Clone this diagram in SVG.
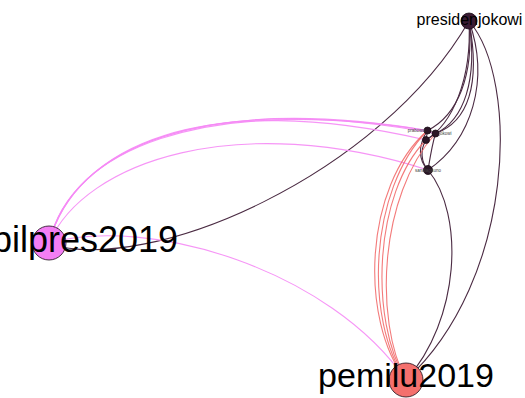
<svg xmlns="http://www.w3.org/2000/svg" width="525" height="398" viewBox="0 0 525 398">
  <style>
    .e { fill: none; stroke-width: 1.1; }
    .dk { stroke: #4b2b43; }
    .pk { stroke: #f58af5; stroke-opacity: 0.9; }
    .rd { stroke: #f26b6b; stroke-opacity: 0.9; }
    .node { stroke: #1a0d16; stroke-width: 0.8; }
    .lbl { font-family: "Liberation Sans", Arial, sans-serif; fill: #000; text-anchor: middle; }
    .tiny { font-family: "Liberation Sans", Arial, sans-serif; fill: #444; font-size: 4.5px; }
  </style>
  <rect width="525" height="398" fill="#ffffff"/>

  <g id="connectors">
    <!-- presidenjokowi edges -->
    <path class="e dk" d="M469,21 C380,175 150,275 49,244"/>
    <path class="e dk" d="M469,21 C520,80 515,280 406,380"/>
    <path class="e dk" d="M469,21 C490,80 472,140 428,170"/>
    <path class="e dk" d="M469,21 C474,75 458,115 427.5,130.5"/>
    <path class="e dk" d="M469,21 C478,80 464,120 435.5,133.5"/>
    <path class="e dk" d="M469,21 C472,80 452,124 426,140"/>
    <path class="e dk" d="M469,21 C481,85 468,122 435.5,133.5"/>
    <!-- sandiagauno to pemilu2019 -->
    <path class="e dk" d="M428,170 C465,215 460,320 406,380"/>
    <!-- inside the small cluster -->
    <path class="e dk" d="M427.5,130.5 C418,145 418,160 428,170"/>
    <path class="e dk" d="M426,140 C420,150 421,162 428,170"/>
    <path class="e dk" d="M435.5,133.5 C432,145 430,158 428,170"/>
    <path class="e dk" d="M427.5,130.5 L435.5,133.5"/>
    <path class="e dk" d="M427.5,130.5 L426,140"/>
    <path class="e dk" d="M435.5,133.5 L426,140"/>

    <!-- pilpres2019 edges -->
    <path class="e pk" d="M49,243 C70,150 200,95 427.5,130.5"/>
    <path class="e pk" d="M49,243 C72,148 202,93 427.5,130.5"/>
    <path class="e pk" d="M49,243 C74,146 204,91 435.5,133.5"/>
    <path class="e pk" d="M49,243 C76,144 206,89 426,140"/>
    <path class="e pk" d="M49,243 C85,160 240,110 428,170"/>
    <path class="e pk" d="M49,243 C150,215 330,270 406,380"/>

    <!-- pemilu2019 edges -->
    <path class="e rd" d="M406,380 C364,320 369,190 427.5,130.5"/>
    <path class="e rd" d="M406,380 C369,320 374,193 426,140"/>
    <path class="e rd" d="M406,380 C359,320 364,186 427.5,130.5"/>
    <path class="e rd" d="M406,380 C374,320 379,196 435.5,133.5"/>
  </g>

  <g id="node-sandiagauno">
    <circle class="node" cx="428" cy="170" r="4.5" fill="#2b1626"/>
    <text class="tiny" x="428" y="172" font-size="5" text-anchor="middle">sandiagauno</text>
  </g>
  <g id="node-prabowo">
    <circle class="node" cx="427.5" cy="130.5" r="3.5" fill="#2b1626"/>
    <text class="tiny" x="425" y="132" text-anchor="end">prabowo</text>
  </g>
  <g id="node-jokowi">
    <circle class="node" cx="435.5" cy="133.5" r="3.5" fill="#2b1626"/>
    <text class="tiny" x="439" y="135" text-anchor="start">jokowi</text>
  </g>
  <g id="node-debat">
    <circle class="node" cx="426" cy="140" r="3.5" fill="#2b1626"/>
  </g>

  <g id="node-presidenjokowi">
    <circle class="node" cx="469" cy="21" r="8" fill="#3b1c33"/>
    <text class="lbl" x="469.5" y="25" font-size="16">presidenjokowi</text>
  </g>
  <g id="node-pilpres2019">
    <circle class="node" cx="49" cy="243" r="17" fill="#f47ef4"/>
    <text class="lbl" x="85" y="252" font-size="36">pilpres2019</text>
  </g>
  <g id="node-pemilu2019">
    <circle class="node" cx="406" cy="380" r="17" fill="#f4706d"/>
    <text class="lbl" x="406" y="387" font-size="34">pemilu2019</text>
  </g>
</svg>
